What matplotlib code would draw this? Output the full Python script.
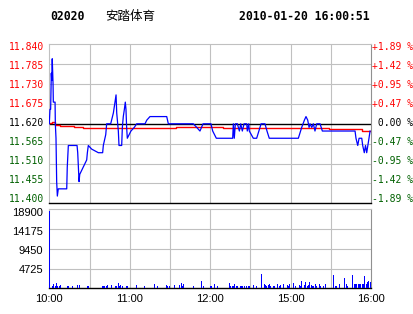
import matplotlib
matplotlib.use("Agg")
import matplotlib.pyplot as plt

# ---------------- data ----------------
code = "02020"
name = "安踏体育"
stamp = "2010-01-20 16:00:51"
prev_close = 11.620

price_levels = [11.840, 11.785, 11.730, 11.675, 11.620, 11.565, 11.510, 11.455, 11.400]
price_labels = ["11.840", "11.785", "11.730", "11.675", "11.620", "11.565", "11.510", "11.455", "11.400"]
pct_labels = ["+1.89 %", "+1.42 %", "+0.95 %", "+0.47 %", " 0.00 %", "-0.47 %", "-0.95 %", "-1.42 %", "-1.89 %"]

vol_levels = [18900, 14175, 9450, 4725]
vol_labels = ["18900", "14175", "9450", "4725"]

time_ticks = [0, 60, 120, 180, 240]
time_labels = ["10:00", "11:00", "12:00", "15:00", "16:00"]

# minute index (0..240) and price of the intraday line
price_t = [0, 0.5, 1.0, 1.5, 1.8, 2.2, 2.8, 3.0, 4.3, 4.5,
           5.0, 5.5, 6.0, 6.7, 13.0, 13.4, 14.2, 20.7, 21.2, 22.2,
           22.7, 27.9, 28.4, 29.1, 31.6, 36.6, 39.8, 40.3, 42.1, 42.8,
           45.8, 47.8, 49.0, 49.8, 50.3, 51.5, 52.0, 54.0, 54.5, 55.2,
           56.0, 56.7, 57.2, 57.7, 58.2, 60.9, 63.4, 65.2, 71.4, 72.7,
           75.1, 87.6, 88.8, 107.4, 110.0, 112.4, 114.7, 120.6, 121.9, 124.6,
           136.8, 137.3, 138.0, 138.8, 140.3, 141.8, 142.8, 144.0, 145.3, 147.3,
           147.7, 148.8, 149.2, 152.2, 154.7, 158.0, 160.9, 162.4, 164.1, 185.8,
           188.3, 190.3, 191.5, 192.8, 193.8, 194.5, 195.8, 197.0, 198.2, 199.5,
           202.0, 203.7, 228.1, 228.8, 230.1, 231.1, 233.1, 233.8, 235.0, 235.9,
           236.8, 238.5, 239.3]
price_v = [11.62, 11.66, 11.66, 11.76, 11.74, 11.80, 11.73, 11.68, 11.68, 11.62,
           11.58, 11.46, 11.42, 11.44, 11.44, 11.50, 11.56, 11.56, 11.54, 11.46,
           11.48, 11.52, 11.54, 11.56, 11.55, 11.54, 11.54, 11.56, 11.59, 11.62,
           11.62, 11.65, 11.68, 11.70, 11.65, 11.60, 11.56, 11.56, 11.61, 11.64,
           11.66, 11.68, 11.66, 11.61, 11.58, 11.60, 11.61, 11.62, 11.62, 11.63,
           11.64, 11.64, 11.62, 11.62, 11.61, 11.60, 11.62, 11.62, 11.60, 11.58,
           11.58, 11.62, 11.58, 11.62, 11.62, 11.60, 11.62, 11.60, 11.62, 11.62,
           11.60, 11.62, 11.60, 11.58, 11.58, 11.62, 11.62, 11.60, 11.58, 11.58,
           11.61, 11.63, 11.64, 11.63, 11.61, 11.62, 11.61, 11.62, 11.60, 11.62,
           11.62, 11.60, 11.60, 11.58, 11.56, 11.58, 11.58, 11.56, 11.54, 11.56,
           11.54, 11.58, 11.60]

# average price line
avg_t = [0, 2, 4.5, 5.5, 8, 18.7, 25.4, 94.5, 129.6, 178, 209, 233, 240]
avg_v = [11.622, 11.626, 11.618, 11.617, 11.614, 11.611, 11.609, 11.612,
         11.609, 11.607, 11.606, 11.600, 11.600]

# volume per minute
vol_t = [0, 2, 3, 4, 5, 6, 7, 8, 13, 14, 17, 21, 22, 28, 29, 39, 40, 41, 42, 43,
         46, 49, 50, 51, 52, 53, 54, 57, 58, 65, 71, 78, 80, 87, 88, 89, 93, 97, 98, 99,
         100, 107, 113, 115, 120, 121, 123, 125, 134, 135, 136, 137, 138, 139, 140, 142,
         143, 144, 145, 147, 148, 149, 152, 154, 158, 160, 161, 162, 163, 164, 165, 167,
         168, 170, 171, 172, 174, 177, 178, 179, 182, 183, 186, 187, 188, 190, 191, 192,
         193, 194, 195, 196, 197, 198, 199, 201, 202, 204, 206, 212, 213, 214, 216, 220,
         221, 222, 226, 227, 228, 229, 230, 231, 232, 233, 234, 235, 236, 237, 238, 239]
vol_v = [18500, 640, 1030, 560, 1280, 560, 560, 800, 560, 560, 560, 800, 800, 560, 560, 560, 560, 560, 560, 800,
         800, 560, 560, 1280, 560, 800, 560, 560, 560, 800, 560, 1040, 560, 800, 560, 560, 800, 800, 1280, 560,
         1040, 560, 1750, 560, 560, 560, 1040, 560, 1200, 560, 560, 560, 1040, 560, 560, 560,
         560, 560, 560, 560, 560, 560, 800, 560, 3430, 1040, 800, 560, 800, 1040, 560, 560,
         560, 1040, 560, 800, 1040, 800, 560, 1040, 1280, 560, 800, 560, 1750, 800, 1520, 560,
         800, 1520, 800, 560, 560, 1040, 560, 1040, 560, 560, 1040, 3190, 560, 560, 1040, 2470,
         1040, 560, 3190, 1040, 1040, 1040, 1040, 1040, 1040, 1040, 1040, 2950, 1040, 1520, 1750, 1520]

# ---------------- style ----------------
RED = "#ff0000"
GREEN = "#006000"
BLUE = "#0000ff"
GRID = "#c0c0c0"
mono = "DejaVu Sans Mono"
sans = "Liberation Sans"
PX = 0.72  # points per pixel at dpi 100

W, H = 414, 314
fig = plt.figure(figsize=(W / 100, H / 100), dpi=100)
fig.patch.set_facecolor("white")

L, R = 49.3, 371.0
ax = fig.add_axes([L / W, 1 - 203.3 / H, (R - L) / W, (203.3 - 44.3) / H])
axv = fig.add_axes([L / W, 1 - 288.3 / H, (R - L) / W, (288.3 - 209.3) / H])


def level_color(lev):
    if lev > prev_close + 1e-9:
        return RED
    if lev < prev_close - 1e-9:
        return GREEN
    return "black"


# ---- price panel ----
ax.set_xlim(0, 240)
ax.set_ylim(11.400, 11.840)
for x in range(30, 240, 30):
    ax.axvline(x, color=GRID, lw=0.8, zorder=1)
    axv.axvline(x, color=GRID, lw=0.8, zorder=1)
for y in price_levels[1:-1]:
    if abs(y - prev_close) > 1e-9:
        ax.axhline(y, color=GRID, lw=0.8, zorder=1)
ax.axhline(prev_close, color="black", lw=1.0, zorder=2)

ax.plot(avg_t, avg_v, color=RED, lw=1.0, drawstyle="steps-post", zorder=3)
ax.plot(price_t, price_v, color=BLUE, lw=0.9, zorder=4)

ax.set_xticks([])
ax.set_yticks([])

n = len(price_levels)
for i, (lev, txt, pct) in enumerate(zip(price_levels, price_labels, pct_labels)):
    c = level_color(lev)
    # labels are squeezed slightly inward relative to the grid lines
    dy = -(3.0 - 7.0 * i / (n - 1)) * PX
    ax.annotate(txt, xy=(0.0, lev), xycoords=("axes fraction", "data"),
                xytext=(-5.3 * PX, dy), textcoords="offset points",
                ha="right", va="center", fontfamily=mono, fontsize=7, color=c,
                annotation_clip=False)
    ax.annotate(pct, xy=(1.0, lev), xycoords=("axes fraction", "data"),
                xytext=(0.5, dy), textcoords="offset points",
                ha="left", va="center", fontfamily=mono, fontsize=7, color=c,
                annotation_clip=False)

for s in ["top", "left"]:
    ax.spines[s].set_color(GRID)
    ax.spines[s].set_linewidth(0.8)
ax.spines["right"].set_color("#909090")
ax.spines["right"].set_linewidth(0.8)
ax.spines["bottom"].set_color("black")
ax.spines["bottom"].set_linewidth(1.0)

# ---- volume panel ----
axv.set_xlim(0, 240)
axv.set_ylim(0, 18900)
for y in vol_levels[1:]:
    axv.axhline(y, color=GRID, lw=0.8, zorder=1)
axv.bar(vol_t, vol_v, width=0.75, align="edge", color=BLUE, linewidth=0, zorder=3)
axv.set_yticks([])
for j, (lev, txt) in enumerate(zip(vol_levels, vol_labels)):
    dy = -(3.7 - 0.75 * j) * PX
    axv.annotate(txt, xy=(0.0, lev), xycoords=("axes fraction", "data"),
                 xytext=(-6 * PX, dy), textcoords="offset points",
                 ha="right", va="center", fontfamily=sans, fontsize=8,
                 color="black", annotation_clip=False)
axv.set_xticks(time_ticks)
axv.set_xticklabels(time_labels, fontfamily=sans, fontsize=8)
axv.tick_params(axis="both", length=0)
axv.tick_params(axis="x", pad=4)
for s in ["top", "left"]:
    axv.spines[s].set_color(GRID)
    axv.spines[s].set_linewidth(0.8)
axv.spines["right"].set_color("#909090")
axv.spines["right"].set_linewidth(0.8)
axv.spines["bottom"].set_color("black")
axv.spines["bottom"].set_linewidth(1.0)

# ---- header ----
fig.text(50 / W, 1 - 16.7 / H, code, fontfamily=mono, fontweight="bold",
         fontsize=8.3, ha="left", va="center")
fig.text(105 / W, 1 - 16.5 / H, name, fontfamily=["Noto Sans CJK SC", "DejaVu Sans"],
         fontsize=9, ha="left", va="center")
fig.text(370 / W, 1 - 16.7 / H, stamp, fontfamily=mono, fontweight="bold",
         fontsize=8.3, ha="right", va="center")

fig.savefig("out.png", dpi=100, facecolor="white")
